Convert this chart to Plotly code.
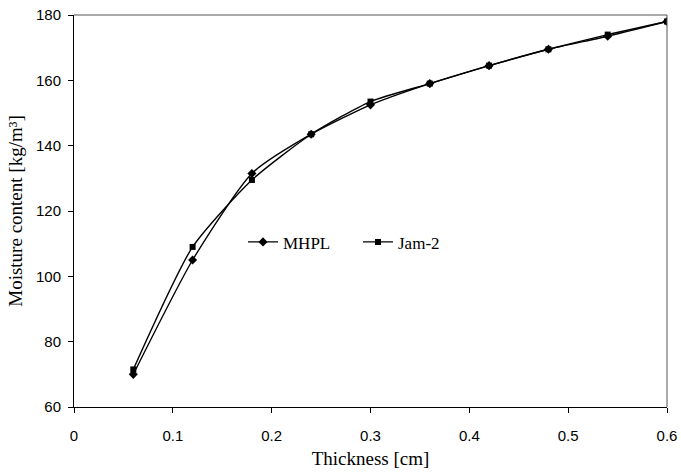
import plotly.graph_objects as go

# Drying profile: moisture content vs. board thickness
thickness = [0.06, 0.12, 0.18, 0.24, 0.30, 0.36, 0.42, 0.48, 0.54, 0.60]
mhpl = [70, 105, 131.5, 143.5, 152.5, 159, 164.5, 169.5, 173.5, 178]
jam2 = [71.5, 109, 129.5, 143.5, 153.5, 159, 164.5, 169.5, 174, 178]

x_ticks = [0, 0.1, 0.2, 0.3, 0.4, 0.5, 0.6]
x_tick_text = ["0", "0.1", "0.2", "0.3", "0.4", "0.5", "0.6"]
y_ticks = [60, 80, 100, 120, 140, 160, 180]

SERIF = "Times New Roman, Liberation Serif, serif"
SANS = "Arial, Liberation Sans, sans-serif"

fig = go.Figure()
fig.add_trace(go.Scatter(
    x=thickness, y=mhpl, name="MHPL", mode="lines+markers",
    line=dict(color="black", width=1.4, shape="spline", smoothing=0.6),
    marker=dict(symbol="diamond", size=7, color="black"),
))
fig.add_trace(go.Scatter(
    x=thickness, y=jam2, name="Jam-2", mode="lines+markers",
    line=dict(color="black", width=1.4, shape="spline", smoothing=0.6),
    marker=dict(symbol="square", size=6, color="black"),
))

# light frame on the top and right edges
fig.add_shape(type="line", xref="paper", yref="paper", x0=0, x1=1, y0=1, y1=1,
              line=dict(color="#555", width=1))
fig.add_shape(type="line", xref="paper", yref="paper", x0=1, x1=1, y0=0, y1=1,
              line=dict(color="#555", width=1))

fig.update_layout(
    width=681, height=476,
    margin=dict(l=74, r=14, t=15, b=69, autoexpand=False),
    paper_bgcolor="white", plot_bgcolor="white",
    showlegend=True,
    legend=dict(orientation="h", x=0.285, y=0.42, xanchor="left", yanchor="middle",
                bgcolor="rgba(0,0,0,0)", font=dict(family=SERIF, size=17, color="black"),
                itemwidth=30, entrywidth=70, tracegroupgap=0),
    xaxis=dict(
        range=[0, 0.6], tickvals=x_ticks, ticktext=x_tick_text, automargin=False,
        showgrid=False, zeroline=False, showline=True, linecolor="black", linewidth=1,
        ticks="outside", ticklen=5, tickcolor="black", ticklabelstandoff=10,
        tickfont=dict(family=SANS, size=15, color="black"),
        title=dict(text="Thickness [cm]", font=dict(family=SERIF, size=19, color="black"), standoff=8),
    ),
    yaxis=dict(
        range=[60, 180], tickvals=y_ticks, automargin=False,
        showgrid=False, zeroline=False, showline=True, linecolor="black", linewidth=1,
        ticks="outside", ticklen=5, tickcolor="black", ticklabelstandoff=4,
        tickfont=dict(family=SANS, size=15, color="black"),
        title=dict(text="Moisture content [kg/m³]", font=dict(family=SERIF, size=19, color="black"), standoff=8),
    ),
)

fig.write_html("out.html")
